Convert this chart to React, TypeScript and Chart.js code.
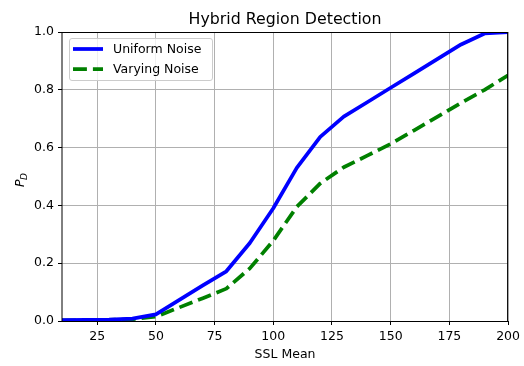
import React, { useEffect, useRef } from "react";
import { Chart, registerables } from "chart.js";

Chart.register(...registerables);

// SSL mean values sampled along the x axis
const sslMean = [10, 20, 30, 40, 50, 60, 70, 80, 90, 100, 110, 120, 130, 140, 150, 160, 170, 180, 190, 200];
// Detection probability with uniform noise
const uniformNoise = [0.003, 0.004, 0.005, 0.008, 0.023, 0.073, 0.123, 0.172, 0.27, 0.39, 0.53, 0.637, 0.707, 0.757, 0.807, 0.857, 0.907, 0.957, 0.995, 1.0];
// Detection probability with varying noise
const varyingNoise = [0.002, 0.003, 0.004, 0.006, 0.015, 0.047, 0.079, 0.112, 0.182, 0.278, 0.395, 0.476, 0.532, 0.572, 0.613, 0.66, 0.707, 0.755, 0.8, 0.85];

const xTicks = [25, 50, 75, 100, 125, 150, 175, 200];
const yTicks = [0, 0.2, 0.4, 0.6, 0.8, 1.0];

const titleText = "Hybrid Region Detection";
const xTitle = "SSL Mean";
const seriesNames = ["Uniform Noise", "Varying Noise"];
const seriesColors = ["#0000ff", "#008000"];

const FONT = "'DejaVu Sans', sans-serif";
const LW = 3.75;
const DASH = [13.9, 6];

const decorations = {
  id: "decorations",
  afterDatasetsDraw(chart: any) {
    const { ctx, chartArea } = chart;
    const { left, right, top, bottom } = chartArea;
    ctx.save();
    // axes frame
    ctx.strokeStyle = "#000";
    ctx.lineWidth = 1;
    ctx.beginPath();
    ctx.moveTo(left, top + 0.5);
    ctx.lineTo(right, top + 0.5);
    ctx.moveTo(right - 0.5, top);
    ctx.lineTo(right - 0.5, bottom);
    ctx.moveTo(left, bottom + 0.5);
    ctx.lineTo(right, bottom + 0.5);
    ctx.moveTo(left, top);
    ctx.lineTo(left, bottom + 1);
    ctx.stroke();
    ctx.restore();
  },
  afterDraw(chart: any) {
    const { ctx, chartArea } = chart;
    const { left, right } = chartArea;
    const cx = (left + right) / 2;
    ctx.save();
    ctx.fillStyle = "#000";

    // title
    ctx.font = `15.8px ${FONT}`;
    ctx.textAlign = "center";
    ctx.textBaseline = "alphabetic";
    ctx.fillText(titleText, cx, 24);

    // x axis title
    ctx.font = `12.5px ${FONT}`;
    ctx.fillText(xTitle, cx, 358);

    // y axis title: P with subscript D
    ctx.save();
    ctx.translate(24, 187);
    ctx.rotate(-Math.PI / 2);
    ctx.textAlign = "left";
    ctx.font = `italic 12.5px ${FONT}`;
    ctx.fillText("P", 0, 0);
    const pw = ctx.measureText("P").width;
    ctx.font = `italic 9px ${FONT}`;
    ctx.fillText("D", pw - 0.5, 2.5);
    ctx.restore();

    // legend
    const bx = 69.5, by = 38.5, bw = 143, bh = 42, r = 2.5;
    ctx.beginPath();
    ctx.moveTo(bx + r, by);
    ctx.lineTo(bx + bw - r, by);
    ctx.arcTo(bx + bw, by, bx + bw, by + r, r);
    ctx.lineTo(bx + bw, by + bh - r);
    ctx.arcTo(bx + bw, by + bh, bx + bw - r, by + bh, r);
    ctx.lineTo(bx + r, by + bh);
    ctx.arcTo(bx, by + bh, bx, by + bh - r, r);
    ctx.lineTo(bx, by + r);
    ctx.arcTo(bx, by, bx + r, by, r);
    ctx.closePath();
    ctx.fillStyle = "rgba(255,255,255,0.8)";
    ctx.fill();
    ctx.strokeStyle = "#cccccc";
    ctx.lineWidth = 1;
    ctx.stroke();

    const rows = [49, 69];
    seriesNames.forEach((name, i) => {
      const y = rows[i];
      ctx.beginPath();
      ctx.strokeStyle = seriesColors[i];
      ctx.lineWidth = LW;
      ctx.lineCap = "butt";
      ctx.setLineDash(i === 1 ? DASH : []);
      ctx.moveTo(73, y);
      ctx.lineTo(103, y);
      ctx.stroke();
      ctx.setLineDash([]);
      ctx.fillStyle = "#000";
      ctx.font = `12.5px ${FONT}`;
      ctx.textAlign = "left";
      ctx.textBaseline = "middle";
      ctx.fillText(name, 113, y + 0.5);
    });
    ctx.restore();
  },
};

export default function App() {
  const canvasRef = useRef<HTMLCanvasElement | null>(null);

  useEffect(() => {
    const canvas = canvasRef.current;
    if (!canvas) return;
    const chart = new Chart(canvas, {
      type: "line",
      data: {
        datasets: [
          {
            label: seriesNames[0],
            data: sslMean.map((x, i) => ({ x, y: uniformNoise[i] })),
            borderColor: seriesColors[0],
            borderWidth: LW,
            pointRadius: 0,
            tension: 0,
            fill: false,
            borderJoinStyle: "round",
            clip: 0,
          },
          {
            label: seriesNames[1],
            data: sslMean.map((x, i) => ({ x, y: varyingNoise[i] })),
            borderColor: seriesColors[1],
            borderWidth: LW,
            borderDash: DASH,
            pointRadius: 0,
            tension: 0,
            fill: false,
            borderJoinStyle: "round",
            clip: 0,
          },
        ],
      },
      options: {
        animation: false,
        responsive: false,
        devicePixelRatio: 1,
        layout: { padding: { left: 0, right: 15, top: 32, bottom: 0 } },
        plugins: {
          legend: { display: false },
          title: { display: false },
          tooltip: { enabled: false },
        },
        scales: {
          x: {
            type: "linear",
            min: 10,
            max: 200,
            afterBuildTicks: (scale: any) => {
              scale.ticks = xTicks.map((v) => ({ value: v }));
            },
            afterFit: (scale: any) => {
              scale.height = 45;
            },
            grid: {
              color: "#b0b0b0",
              lineWidth: 1,
              tickColor: "#000",
              tickLength: 4,
            },
            border: { display: false },
            ticks: {
              color: "#000",
              padding: 4,
              maxRotation: 0,
              autoSkip: false,
              font: { family: FONT, size: 12.5 },
              callback: (v: any) => String(v),
            },
          },
          y: {
            type: "linear",
            min: 0,
            max: 1,
            afterBuildTicks: (scale: any) => {
              scale.ticks = yTicks.map((v) => ({ value: v }));
            },
            afterFit: (scale: any) => {
              scale.width = 62;
            },
            grid: {
              color: "#b0b0b0",
              lineWidth: 1,
              tickColor: "#000",
              tickLength: 4,
            },
            border: { display: false },
            ticks: {
              color: "#000",
              padding: 4,
              autoSkip: false,
              font: { family: FONT, size: 12.5 },
              callback: (v: any) => Number(v).toFixed(1),
            },
          },
        },
      },
      plugins: [decorations],
    });
    return () => chart.destroy();
  }, []);

  return (
    <div style={{ position: "fixed", left: 0, top: 0, width: 524, height: 366, background: "#fff" }}>
      <canvas ref={canvasRef} width={524} height={366} />
    </div>
  );
}
